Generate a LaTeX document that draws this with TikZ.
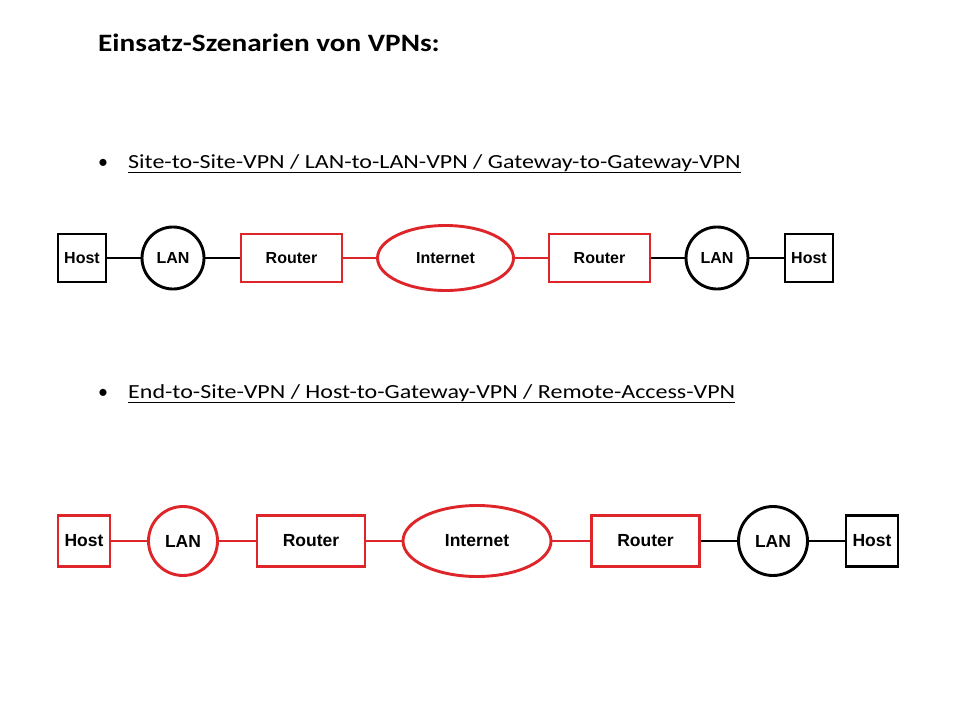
\documentclass[tikz,border=0pt]{standalone}
\usepackage{fontspec}
\setmainfont{Carlito}
\newfontfamily\titlefont[FakeStretch=1.17]{Carlito}
\newfontfamily\bulletfont[FakeStretch=1.2]{Carlito}
\newfontfamily\nodefont{Liberation Sans}
\usetikzlibrary{shapes.geometric}
\definecolor{vpnred}{RGB}{222,38,42}
\begin{document}
\begin{tikzpicture}[x=1pt,y=-1pt,
  blk/.style={draw=black,line width=2.9pt},
  rd/.style={draw=vpnred,line width=2.9pt},
  conblk/.style={draw=black,line width=2.9pt},
  conrd/.style={draw=vpnred,line width=2.9pt},
  lbl/.style={font=\nodefont\bfseries\fontsize{#1}{#1}\selectfont,inner sep=0pt,align=center},
  lbl/.default=16,
]
\useasboundingbox[fill=white] (0,0) rectangle (960,720);

% Title and bullet lines
\node[anchor=base west,inner sep=0pt,font=\titlefont\bfseries\fontsize{25}{30}\selectfont] (title) at (98,51) {Einsatz-Szenarien von VPNs:};
\node[anchor=base,inner sep=0pt,font=\fontsize{20}{24}\selectfont] (b1) at (103,168) {•};
\node[anchor=base west,inner sep=0pt,font=\bulletfont\fontsize{20}{24}\selectfont] (t1) at (128,168) {\underline{Site-to-Site-VPN / LAN-to-LAN-VPN / Gateway-to-Gateway-VPN}};
\node[anchor=base,inner sep=0pt,font=\fontsize{20}{24}\selectfont] (b2) at (103,398) {•};
\node[anchor=base west,inner sep=0pt,font=\bulletfont\fontsize{20}{24}\selectfont] (t2) at (128,398) {\underline{End-to-Site-VPN / Host-to-Gateway-VPN / Remote-Access-VPN}};

% Row 1
\begin{scope}[every node/.append style={lbl=16}]
\node[blk,rectangle,minimum width=48pt,minimum height=48pt] (h1) at (82,258) {Host};
\node[blk,circle,minimum size=62pt] (l1) at (173,258) {LAN};
\node[rd,rectangle,minimum width=101pt,minimum height=48pt] (r1) at (291.5,258) {Router};
\node[rd,ellipse,minimum width=136pt,minimum height=65pt] (i1) at (445.5,258) {Internet};
\node[rd,rectangle,minimum width=101pt,minimum height=48pt] (r2) at (599.5,258) {Router};
\node[blk,circle,minimum size=62pt] (l2) at (717,258) {LAN};
\node[blk,rectangle,minimum width=48pt,minimum height=48pt] (h2) at (809,258) {Host};
\end{scope}
\draw[conblk] (h1.east) -- (l1.west);
\draw[conblk] (l1.east) -- (r1.west);
\draw[conrd] (r1.east) -- (i1.west);
\draw[conrd] (i1.east) -- (r2.west);
\draw[conblk] (r2.east) -- (l2.west);
\draw[conblk] (l2.east) -- (h2.west);

% Row 2
\begin{scope}[every node/.append style={lbl=17.5}]
\node[rd,rectangle,minimum width=52pt,minimum height=51pt] (h3) at (84,541) {Host};
\node[rd,circle,minimum size=69pt] (l3) at (183,541) {LAN};
\node[rd,rectangle,minimum width=108pt,minimum height=51pt] (r3) at (311,541) {Router};
\node[rd,ellipse,minimum width=148pt,minimum height=71pt] (i2) at (477,541) {Internet};
\node[rd,rectangle,minimum width=108pt,minimum height=51pt] (r4) at (645.5,541) {Router};
\node[blk,circle,minimum size=69pt] (l4) at (773,541) {LAN};
\node[blk,rectangle,minimum width=52pt,minimum height=51pt] (h4) at (872,541) {Host};
\end{scope}
\draw[conrd] (h3.east) -- (l3.west);
\draw[conrd] (l3.east) -- (r3.west);
\draw[conrd] (r3.east) -- (i2.west);
\draw[conrd] (i2.east) -- (r4.west);
\draw[conblk] (r4.east) -- (l4.west);
\draw[conblk] (l4.east) -- (h4.west);
\end{tikzpicture}
\end{document}
